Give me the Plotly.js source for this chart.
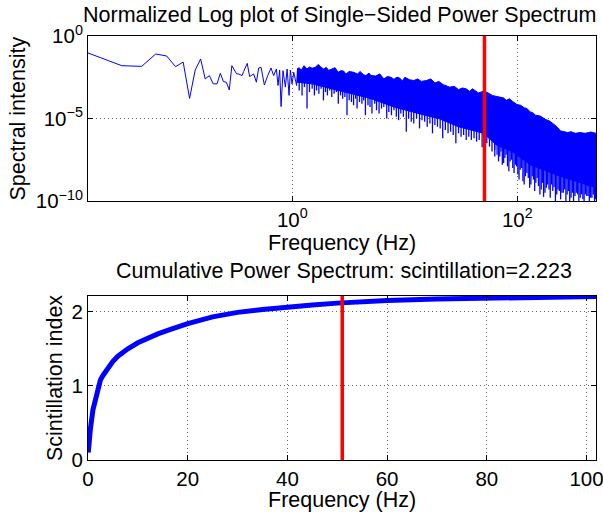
<!DOCTYPE html>
<html><head><meta charset="utf-8">
<script src="https://cdn.plot.ly/plotly-3.0.1.min.js"></script>
<style>html,body{margin:0;padding:0;background:#fff}#chart{width:603px;height:516px}</style>
</head><body><div id="chart"></div><script>
// ---- Top panel: single-sided power spectrum (values are log10 of intensity) ----
const lowFreq = [0.01526,0.0305,0.0458,0.0610,0.0763,0.0916,0.107,0.122,0.137,0.153,0.168,0.183,0.198,0.214,0.229,0.244,0.259,0.275,0.290,0.305,0.320,0.333,0.357,0.369,0.397,0.417,0.438,0.453,0.479,0.502,0.527,0.564,0.604,0.646,0.682,0.721,0.746,0.771,0.794,0.826,0.867,0.898,0.935,0.96,0.993,1.03,1.09,1.11];
const lowLogP = [-1.03,-1.80,-1.84,-1.09,-1.21,-1.86,-1.58,-3.78,-2.06,-1.39,-2.6,-2.4,-2.9,-2.9,-2.26,-2.77,-2.8,-3.27,-1.8,-2.06,-2.3,-2.3,-2.4,-2.15,-1.66,-2.46,-2.34,-2.3,-2.8,-1.94,-1.9,-2.97,-2.4,-1.94,-2.4,-2.0,-3.0,-2.06,-4.28,-2.1,-3.1,-2.0,-3.6,-2.06,-2.9,-2.2,-3.0,-2.0];

const bandUpFreq = [
  1.1,1.15,1.2,1.27,1.35,1.42,1.5,1.6,1.7,1.8,
  1.9,2.0,2.1,2.25,2.4,2.55,2.7,2.85,3.0,3.2,
  3.5,3.8,4.0,4.3,4.5,4.8,5.0,5.5,6.0,6.5,
  7.0,7.5,8.0,8.5,9.0,9.5,10,11,12,13,
  14,15.5,17,18.5,20,22,25,27.5,30,32.5,
  35,37.5,40,45,50,55,60,64,70,75,
  80,85,90,95,99,107,115,122,130,137,
  145,160,177,193,210,225,241,260,280,300,
  328,360,400,450,500];
const bandUpLogP = [
  -2.0,-1.92,-2.08,-1.8,-2.0,-1.88,-1.95,-1.9,-1.72,-1.9,
  -2.0,-1.9,-2.08,-2.02,-1.92,-2.2,-2.1,-2.12,-2.3,-2.15,
  -2.2,-2.3,-2.15,-2.35,-2.4,-2.25,-2.4,-2.42,-2.3,-2.6,
  -2.45,-2.5,-2.62,-2.5,-2.55,-2.72,-2.5,-2.65,-2.7,-2.6,
  -2.75,-2.7,-2.6,-2.85,-2.75,-2.95,-3.1,-3.05,-3.25,-3.15,
  -3.2,-3.35,-3.2,-3.45,-3.35,-3.45,-3.6,-3.65,-3.7,-3.75,
  -3.9,-3.8,-3.95,-4.05,-4.15,-4.2,-4.35,-4.4,-4.6,-4.65,
  -4.8,-4.85,-5.05,-5.15,-5.35,-5.5,-5.75,-5.8,-5.85,-5.8,
  -5.9,-5.85,-5.9,-5.82,-5.9];
const bandLoFreq = [1.1,1.5,2,3,5,8,10,15,20,30,50,65,90,130,240,500];
const bandLoLogP = [-2.8,-2.9,-3.1,-3.4,-3.8,-4.3,-4.5,-4.8,-5.0,-5.5,-5.9,-6.6,-7.0,-7.8,-8.5,-9.2];

const spikeFreq = [
  1.15,1.22,1.28,1.35,1.42,1.5,1.57,1.64,1.72,1.8,
  1.89,1.97,2.05,2.15,2.24,2.35,2.46,2.56,2.68,2.8,
  2.93,3.06,3.2,3.35,3.5,3.65,3.76,3.95,4.15,4.3,
  4.46,4.7,4.9,5.1,5.4,5.6,5.9,6.2,6.5,6.9,
  7.2,7.6,8.0,8.4,8.8,9.2,9.7,10.3,10.8,11.4,
  12,12.7,13.5,14.2,15,15.8,16.7,17.6,18.5,19.5,
  20.6,21.7,22.9,24.2,25.5,26.9,28.4,30,31.6,33.3,
  35.1,37,39,41.2,43.4,45.8,48.6,51,53.5,56.5,
  59.5,62.8,66,69.8,73.5,77.5,81.7,86.2,91,96,
  101,106,112,118,125,132,139,146,154,163,
  171,181,191,201,212,224,236,249,263,277,
  292,308,325,343,362,382,403,425,448,473,495];
const spikeTopLogP = [
  -2.6,-2.6,-2.6,-2.6,-2.6,-2.6,-2.6,-2.6,-2.6,-2.6,
  -2.8,-2.8,-2.8,-2.8,-2.8,-2.8,-2.8,-2.8,-2.8,-2.8,
  -3.0,-3.0,-3.0,-3.0,-3.0,-3.0,-3.0,-3.0,-3.0,-3.0,
  -3.4,-3.4,-3.4,-3.4,-3.4,-3.4,-3.4,-3.4,-3.4,-3.4,
  -3.8,-3.8,-3.8,-3.8,-3.8,-3.8,-3.8,-3.8,-3.8,-3.8,
  -4.2,-4.2,-4.2,-4.2,-4.2,-4.2,-4.2,-4.2,-4.2,-4.2,
  -4.6,-4.6,-4.6,-4.6,-4.6,-4.6,-4.6,-4.6,-4.6,-4.6,
  -5.2,-5.2,-5.2,-5.2,-5.2,-5.2,-5.2,-5.2,-5.2,-5.2,
  -5.8,-5.8,-5.8,-5.8,-5.8,-5.8,-5.8,-5.8,-5.8,-5.8,
  -6.6,-6.6,-6.6,-6.6,-6.6,-6.6,-6.6,-6.6,-6.6,-6.6,
  -7.5,-7.5,-7.5,-7.5,-7.5,-7.5,-7.5,-7.5,-7.5,-7.5,
  -8.2,-8.2,-8.2,-8.2,-8.2,-8.2,-8.2,-8.2,-8.2,-8.2,-8.2];
const spikeBotLogP = [
  -3.3,-3.6,-3.1,-4.4,-3.4,-3.2,-3.6,-3.3,-3.5,-3.2,
  -3.9,-3.4,-3.6,-3.3,-3.7,-3.5,-3.4,-4.1,-3.6,-3.8,
  -3.7,-4.8,-3.9,-4.0,-4.2,-3.8,-4.4,-4.0,-4.1,-3.9,
  -4.8,-4.2,-4.3,-4.7,-4.1,-4.5,-4.7,-4.4,-4.3,-5.0,
  -4.6,-4.8,-4.5,-4.9,-5.1,-4.7,-4.9,-5.8,-5.0,-5.2,
  -5.3,-5.0,-5.6,-5.1,-5.2,-5.5,-5.3,-5.9,-5.4,-5.5,
  -5.6,-6.2,-5.7,-5.9,-5.8,-6.0,-6.5,-5.9,-6.1,-6.0,
  -6.3,-6.1,-6.3,-6.2,-6.4,-6.3,-6.75,-6.4,-6.5,-6.7,
  -7.0,-6.9,-7.2,-7.3,-7.8,-7.4,-7.9,-7.6,-8.0,-7.8,
  -8.4,-8.1,-8.8,-8.5,-8.6,-9.0,-8.7,-8.9,-9.1,-9.3,
  -9.75,-9.2,-9.3,-9.0,-9.15,-9.6,-9.4,-9.5,-9.3,-9.6,
  -10,-9.5,-9.7,-9.6,-9.8,-9.9,-9.6,-9.7,-9.8,-9.6,-9.9];

// extra dense high-frequency dips
const dipFreq = [63,68,71.5,75.5,79.5,84,88.5,93.5,98.5,103.5,109,115,121.5,128.5,135.5,142.5,150,158.5,167,176,186,196,206.5,218,230,242.5,256,270,285,300,316,334,352,372,392,414,436,460,485];
const dipTopLogP = [-6.2,-6.3,-6.4,-6.4,-6.5,-6.5,-6.6,-6.7,-6.8,-6.9,-7.0,-7.1,-7.2,-7.3,-7.4,-7.5,-7.6,-7.7,-7.8,-7.8,-7.9,-8.0,-8.0,-8.1,-8.2,-8.3,-8.3,-8.4,-8.4,-8.5,-8.5,-8.6,-8.6,-8.7,-8.7,-8.8,-8.8,-8.9,-8.9];
const dipBotLogP = [-7.3,-7.6,-7.0,-7.7,-7.2,-8.2,-7.5,-8.3,-7.9,-8.7,-8.0,-9.0,-8.3,-9.2,-8.5,-9.4,-8.6,-9.6,-8.9,-9.5,-9.0,-9.8,-9.4,-10,-9.3,-9.9,-9.5,-10,-9.4,-9.8,-10,-9.5,-10,-9.6,-10,-9.7,-10,-9.8,-10];

// ---- Bottom panel: cumulative power spectrum ----
const cumFreq = [0.05,0.2,0.5,1,1.5,1.8,2.5,3,4,5,6,7,8,10,12,14,17,20,25,30,35,40,45,50,55,60,70,80,90,102];
const cumIndex = [0.10,0.30,0.43,0.68,0.84,0.92,1.08,1.14,1.25,1.33,1.40,1.46,1.50,1.58,1.64,1.70,1.77,1.84,1.93,1.99,2.03,2.065,2.09,2.115,2.135,2.15,2.17,2.185,2.195,2.205];

const markerFreq = [51];
const topYLimits = [1e-10, 1];
const botYLimits = [0, 2.215];

const pw = v => Math.pow(10, v);
const W = 603, H = 516;
const px = x => x / W, py = y => 1 - y / H;

const bandX = bandUpFreq.concat(bandLoFreq.slice().reverse());
const bandY = bandUpLogP.concat(bandLoLogP.slice().reverse()).map(pw);
const spX = [], spY = [];
spikeFreq.forEach((f, i) => { spX.push(f, f, null); spY.push(pw(spikeTopLogP[i]), pw(spikeBotLogP[i]), null); });
dipFreq.forEach((f, i) => { spX.push(f, f, null); spY.push(pw(dipTopLogP[i]), pw(dipBotLogP[i]), null); });

const blue = '#0000ff', red = '#ff0000';
const traces = [
  {x: bandX, y: bandY, xaxis: 'x', yaxis: 'y', mode: 'lines', fill: 'toself', fillcolor: blue, line: {color: blue, width: 1}, hoverinfo: 'skip'},
  {x: spX, y: spY, xaxis: 'x', yaxis: 'y', mode: 'lines', line: {color: blue, width: 1.3}, connectgaps: false},
  {x: lowFreq, y: lowLogP.map(pw), xaxis: 'x', yaxis: 'y', mode: 'lines', line: {color: blue, width: 1}},
  {x: [markerFreq[0], markerFreq[0]], y: topYLimits, xaxis: 'x', yaxis: 'y', mode: 'lines', line: {color: red, width: 3.5}},
  {x: cumFreq, y: cumIndex, xaxis: 'x2', yaxis: 'y2', mode: 'lines', line: {color: blue, width: 5}},
  {x: [markerFreq[0], markerFreq[0]], y: botYLimits, xaxis: 'x2', yaxis: 'y2', mode: 'lines', line: {color: red, width: 3.5}}
];

const fontFam = '"Liberation Sans", Arial, Helvetica, sans-serif';
const TXT = 21.5;
const axBase = {
  showline: true, mirror: 'ticks', linecolor: '#000', linewidth: 1,
  ticks: 'inside', ticklen: 5, tickcolor: '#000', tickwidth: 1,
  showgrid: true, gridcolor: '#666', griddash: '1px,3px', gridwidth: 1,
  zeroline: false, tickfont: {family: fontFam, size: 20.5, color: '#000'}, fixedrange: true,
  ticklabeloverflow: 'allow'
};
const xDom = [px(88), px(596)];
const ann = (text, x, y, extra) => Object.assign({text: text, x: px(x), y: py(y), xref: 'paper', yref: 'paper', showarrow: false, xanchor: 'center', yanchor: 'middle', font: {family: fontFam, size: TXT, color: '#000'}}, extra || {});
const layout = {
  width: W, height: H, margin: {l: 0, r: 0, t: 0, b: 0},
  paper_bgcolor: '#fff', plot_bgcolor: '#fff', showlegend: false,
  font: {family: fontFam, size: TXT, color: '#000'},
  xaxis: Object.assign({}, axBase, {type: 'log', range: [Math.log10(0.01526), Math.log10(500)], domain: xDom, anchor: 'y',
    tickvals: [1, 100], ticktext: ['10<sup>0</sup>', '10<sup>2</sup>']}),
  yaxis: Object.assign({}, axBase, {type: 'log', range: [-10, 0], domain: [py(201), py(36)], anchor: 'x',
    tickvals: [1e-10, 1e-5, 1], ticktext: ['10<sup>−10</sup>', '10<sup>−5</sup>', '10<sup>0</sup>']}),
  xaxis2: Object.assign({}, axBase, {range: [0, 101.9], domain: xDom, anchor: 'y2', tickvals: [0, 20, 40, 60, 80, 100]}),
  yaxis2: Object.assign({}, axBase, {range: botYLimits, domain: [py(460), py(295.7)], anchor: 'x2', tickvals: [0, 1, 2]}),
  annotations: [
    ann('Normalized Log plot of Single−Sided Power Spectrum', 339, 15),
    ann('Cumulative Power Spectrum: scintillation=2.223', 344, 271),
    ann('Frequency (Hz)', 342, 243.5),
    ann('Frequency (Hz)', 342, 500),
    ann('Spectral intensity', 18, 118.5, {textangle: -90}),
    ann('Scintillation index', 55, 378, {textangle: -90})
  ]
};
Plotly.newPlot('chart', traces, layout, {displayModeBar: false, staticPlot: true});
</script></body></html>
